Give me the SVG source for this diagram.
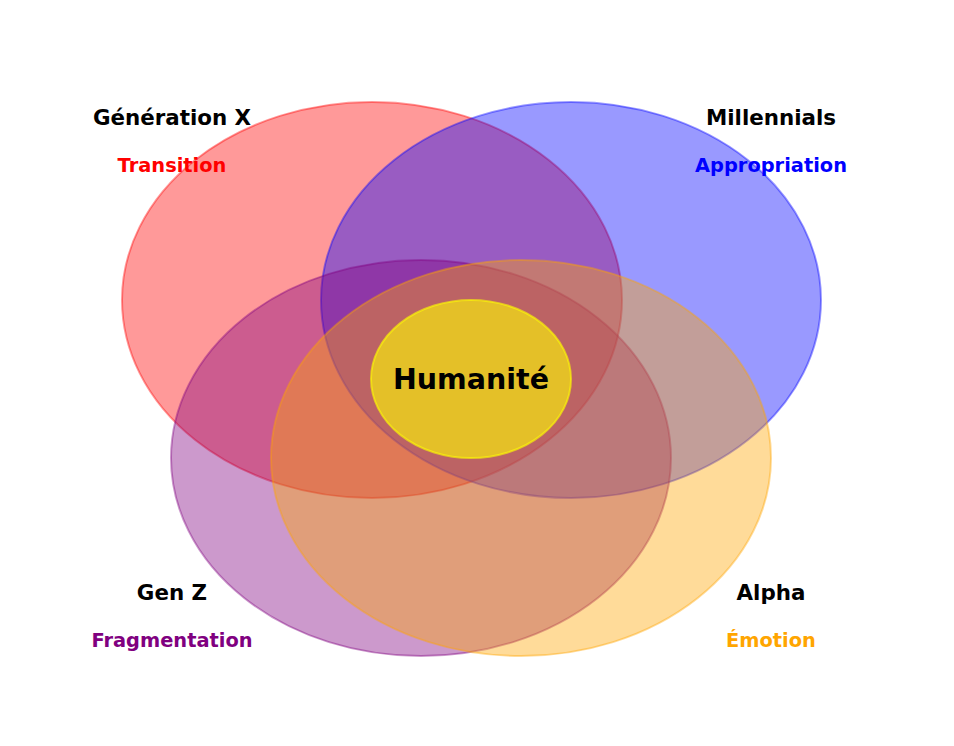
<svg xmlns="http://www.w3.org/2000/svg" width="954" height="746" viewBox="0 0 954 746">
<style>
.c{fill-opacity:0.4;stroke-opacity:0.4;stroke-width:2}
.t{font-family:"DejaVu Sans","Liberation Sans",sans-serif;font-weight:bold;text-anchor:middle}
.h{font-size:21.4px;fill:#000}
.s{font-size:19.4px}
</style>
<rect width="954" height="746" fill="#fff"/>
<g id="genx"><ellipse class="c" cx="372" cy="300" rx="250" ry="198" fill="#ff0000" stroke="#ff0000"/></g>
<g id="millennials"><ellipse class="c" cx="571" cy="300" rx="250" ry="198" fill="#0000ff" stroke="#0000ff"/></g>
<g id="genz"><ellipse class="c" cx="421" cy="458" rx="250" ry="198" fill="#800080" stroke="#800080"/></g>
<g id="alpha"><ellipse class="c" cx="521" cy="458" rx="250" ry="198" fill="#ffa500" stroke="#ffa500"/></g>
<g id="humanite">
<ellipse cx="471" cy="379" rx="100" ry="79" fill="#ffff00" fill-opacity="0.6" stroke="#ffff00" stroke-opacity="0.6" stroke-width="2"/>
<text class="t" x="471" y="389" font-size="28.5px" fill="#000">Humanité</text>
</g>
<g id="labels">
<text class="t h" x="172" y="125">Génération X</text>
<text class="t s" x="172" y="172" fill="#ff0000">Transition</text>
<text class="t h" x="771" y="125">Millennials</text>
<text class="t s" x="771" y="172" fill="#0000ff">Appropriation</text>
<text class="t h" x="172" y="600">Gen Z</text>
<text class="t s" x="172" y="647" fill="#800080">Fragmentation</text>
<text class="t h" x="771" y="600">Alpha</text>
<text class="t s" x="771" y="647" fill="#ffa500">Émotion</text>
</g>
<g id="connectors"></g>
</svg>
